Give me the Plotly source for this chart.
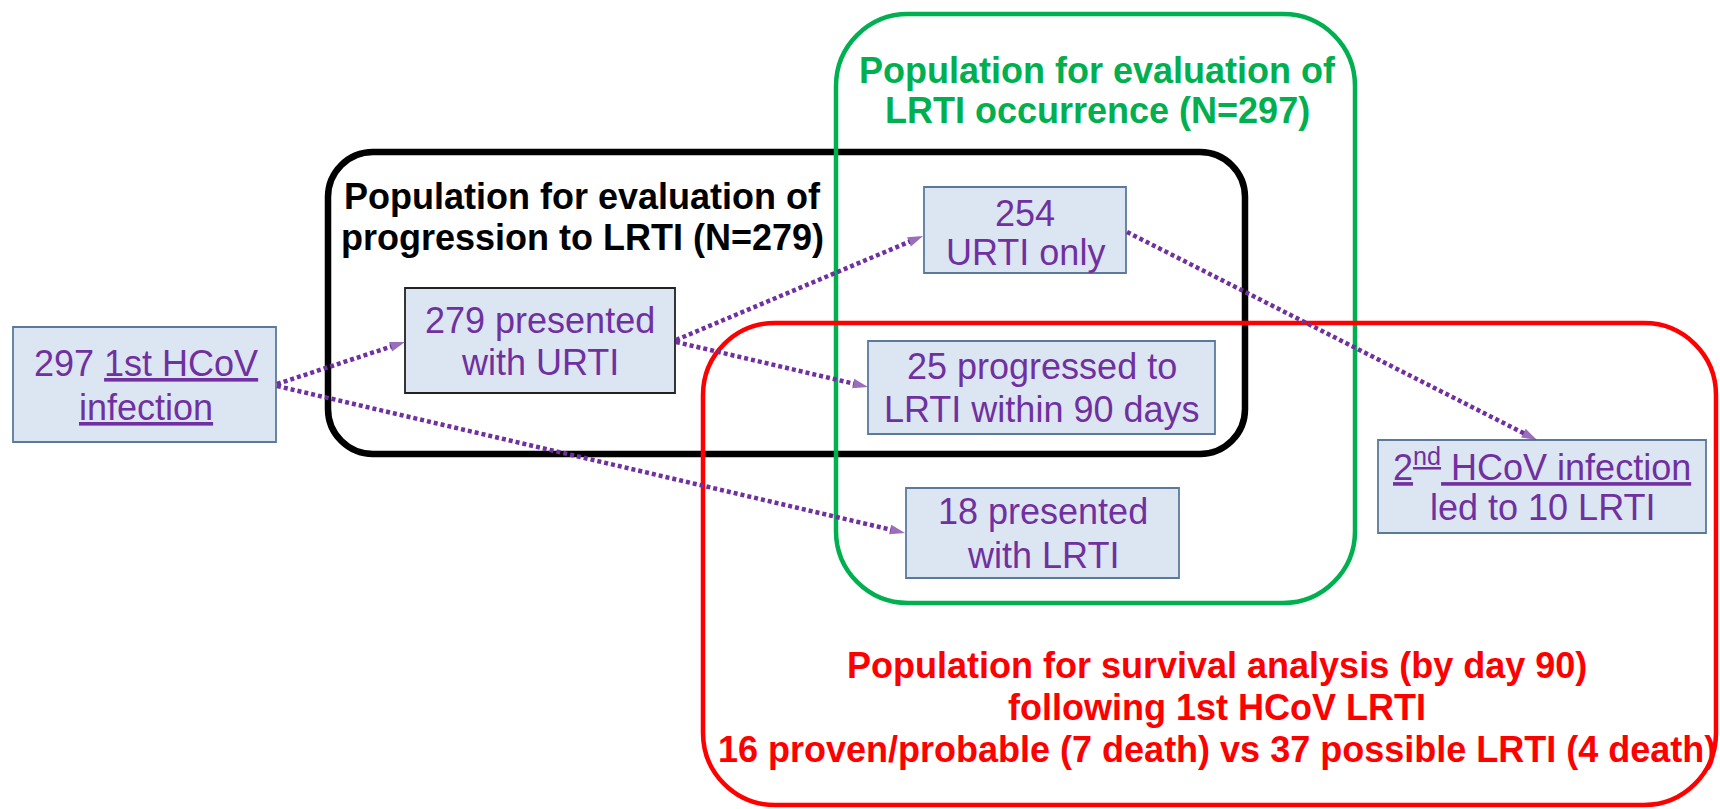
import plotly.graph_objects as go

# ---------------- data (counts) ----------------
n_first_infection = 297
n_presented_urti = 279
n_urti_only = 254
n_progressed_lrti = 25
n_presented_lrti = 18
n_second_lrti = 10
n_proven = 16
n_proven_death = 7
n_possible = 37
n_possible_death = 4
progression_days = 90

node_names = ["first", "urti", "urti_only", "progressed", "lrti", "second"]
node_lines = [
    [f"{n_first_infection} <u>1st HCoV</u>", "<u>infection</u>"],
    [f"{n_presented_urti} presented", "with URTI"],
    [f"{n_urti_only}", "URTI only"],
    [f"{n_progressed_lrti} progressed to", f"LRTI within {progression_days} days"],
    [f"{n_presented_lrti} presented", "with LRTI"],
    ["<u>2<sup>nd</sup> HCoV infection</u>", f"led to {n_second_lrti} LRTI"],
]
edges = [("first", "urti"), ("first", "lrti"), ("urti", "urti_only"),
         ("urti", "progressed"), ("urti_only", "second")]

group_names = ["progression", "occurrence", "survival"]
group_lines = [
    ["Population for evaluation of", f"progression to LRTI (N={n_presented_urti})"],
    ["Population for evaluation of", f"LRTI occurrence (N={n_first_infection})"],
    [f"Population for survival analysis (by day {progression_days})",
     "following 1st HCoV LRTI",
     f"{n_proven} proven/probable ({n_proven_death} death) vs "
     f"{n_possible} possible LRTI ({n_possible_death} death)"],
]

# ---------------- layout geometry (pixels) ----------------
W, H = 1720, 809
PURPLE = "#7030A0"
BOX_FILL = "#DCE6F3"
BOX_EDGE = "#5A7A9C"
FONT = "Liberation Sans, Arial, sans-serif"
FS = 36

box_geom = {
    "first": (13, 327, 276, 442, BOX_EDGE, 146, [376, 420]),
    "urti": (405, 288, 675, 393, "#222222", 540, [333, 375]),
    "urti_only": (924, 187, 1126, 273, BOX_EDGE, 1025, [226, 265]),
    "progressed": (868, 341, 1215, 434, BOX_EDGE, 1042, [379, 422]),
    "lrti": (906, 488, 1179, 578, BOX_EDGE, 1043, [524, 568]),
    "second": (1378, 440, 1706, 533, BOX_EDGE, 1542, [477, 520]),
}
edge_geom = {
    ("first", "urti"): ((277, 384), (405, 342)),
    ("first", "lrti"): ((277, 386), (905, 533)),
    ("urti", "urti_only"): ((676, 340), (923, 236)),
    ("urti", "progressed"): ((676, 342), (868, 387)),
    ("urti_only", "second"): ((1127, 232), (1537, 440)),
}
group_geom = {
    "progression": ((328, 152, 1245, 454, 45), "#000000", 6.5, 582, [209, 250]),
    "occurrence": ((836, 14, 1355, 603, 72), "#00B050", 4.5, 1097, [83, 123]),
    "survival": ((703, 323, 1716, 805, 72), "#FF0000", 4.5, 1217, [678, 720, 762]),
}


def rrect(x0, y0, x1, y1, r):
    k = 0.5523 * r
    return (f"M{x0 + r},{y0} L{x1 - r},{y0} "
            f"C{x1 - r + k},{y0} {x1},{y0 + r - k} {x1},{y0 + r} "
            f"L{x1},{y1 - r} "
            f"C{x1},{y1 - r + k} {x1 - r + k},{y1} {x1 - r},{y1} "
            f"L{x0 + r},{y1} "
            f"C{x0 + r - k},{y1} {x0},{y1 - r + k} {x0},{y1 - r} "
            f"L{x0},{y0 + r} "
            f"C{x0},{y0 + r - k} {x0 + r - k},{y0} {x0 + r},{y0} Z")


BASE_OFF = 0.347 * FS  # baseline offset from middle of text box

fig = go.Figure()
shapes = []
annotations = []

# group rounded rectangles
for name, lines in zip(group_names, group_lines):
    (x0, y0, x1, y1, r), col, lw, cx, baselines = group_geom[name]
    shapes.append(dict(type="path", path=rrect(x0, y0, x1, y1, r),
                       line=dict(color=col, width=lw), fillcolor="rgba(0,0,0,0)",
                       layer="below", xref="x", yref="y"))
    for txt, b in zip(lines, baselines):
        annotations.append(dict(x=cx, y=b - BASE_OFF, xref="x", yref="y",
                                text=f"<b>{txt}</b>", showarrow=False,
                                xanchor="center", yanchor="middle",
                                font=dict(family=FONT, size=FS, color=col)))

# node boxes
for name, lines in zip(node_names, node_lines):
    x0, y0, x1, y1, edge, cx, baselines = box_geom[name]
    shapes.append(dict(type="rect", x0=x0, y0=y0, x1=x1, y1=y1,
                       line=dict(color=edge, width=1.8), fillcolor=BOX_FILL,
                       layer="below", xref="x", yref="y"))
    for txt, b in zip(lines, baselines):
        annotations.append(dict(x=cx, y=b - BASE_OFF, xref="x", yref="y",
                                text=txt, showarrow=False,
                                xanchor="center", yanchor="middle",
                                font=dict(family=FONT, size=FS, color=PURPLE)))

# dotted arrows
for e in edges:
    (xs, ys), (xe, ye) = edge_geom[e]
    fig.add_trace(go.Scatter(
        x=[xs, xe], y=[ys, ye], mode="lines+markers",
        line=dict(color=PURPLE, width=4.5, dash="4px,3px"),
        marker=dict(symbol=["circle", "arrow"], size=[0, 16], color=PURPLE,
                    angleref="previous", line=dict(width=0)),
        hoverinfo="skip", showlegend=False))

fig.update_layout(
    width=W, height=H,
    margin=dict(l=0, r=0, t=0, b=0),
    paper_bgcolor="white", plot_bgcolor="white",
    xaxis=dict(range=[0, W], visible=False, fixedrange=True),
    yaxis=dict(range=[H, 0], visible=False, fixedrange=True),
    shapes=shapes, annotations=annotations, showlegend=False,
)

fig.write_html(
    "out.html",
    config={"displayModeBar": False},
    post_script="document.body.style.margin='0';document.body.style.overflow='hidden';",
)
